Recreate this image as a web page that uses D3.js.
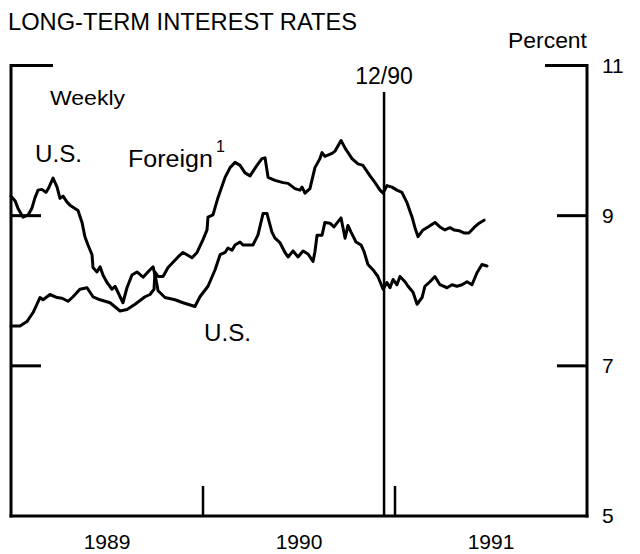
<!DOCTYPE html>
<html>
<head>
<meta charset="utf-8">
<script src="https://cdn.jsdelivr.net/npm/d3@7"></script>
<style>
  html, body { margin: 0; padding: 0; background: #fff; }
  svg { display: block; }
  text { font-family: "Liberation Sans", Arial, Helvetica, sans-serif; fill: #000; }
</style>
</head>
<body>
<svg id="chart" width="640" height="554"></svg>
<script>
// ---- Data (dates as decimal years) ----
const usDates = [1989.000,1989.021,1989.036,1989.063,1989.089,1989.109,1989.125,1989.141,1989.161,1989.182,
  1989.198,1989.219,1989.240,1989.255,1989.271,1989.292,1989.307,1989.349,1989.370,1989.385,
  1989.401,1989.422,1989.427,1989.448,1989.464,1989.479,1989.500,1989.526,1989.542,1989.557,
  1989.583,1989.604,1989.630,1989.656,1989.688,1989.724,1989.740,1989.755,1989.766,1989.802,
  1989.854,1989.896,1989.958,1989.984,1990.026,1990.063,1990.089,1990.115,1990.130,1990.151,
  1990.167,1990.193,1990.208,1990.260,1990.286,1990.313,1990.333,1990.359,1990.375,1990.401,
  1990.427,1990.443,1990.469,1990.495,1990.521,1990.547,1990.573,1990.583,1990.594,1990.620,
  1990.635,1990.661,1990.682,1990.719,1990.740,1990.755,1990.771,1990.797,1990.823,1990.839,
  1990.859,1990.885,1990.911,1990.938,1990.958,1990.974,1990.990,1991.010,1991.026,1991.052,
  1991.068,1991.094,1991.115,1991.141,1991.156,1991.182,1991.208,1991.234,1991.271,1991.297,
  1991.323,1991.349,1991.375,1991.401,1991.427,1991.453,1991.479];
const usValues = [9.26,9.20,9.10,8.98,9.01,9.10,9.24,9.34,9.35,9.31,
  9.38,9.50,9.38,9.23,9.26,9.18,9.14,9.07,8.91,8.72,
  8.61,8.48,8.31,8.25,8.32,8.21,8.11,8.02,8.06,7.98,
  7.84,8.04,8.21,8.25,8.18,8.28,8.32,8.15,8.00,7.91,
  7.88,7.84,7.79,7.92,8.06,8.28,8.48,8.51,8.57,8.54,
  8.61,8.65,8.61,8.61,8.74,9.03,9.03,8.78,8.70,8.64,
  8.51,8.45,8.53,8.45,8.53,8.49,8.39,8.52,8.74,8.74,
  8.91,8.90,8.85,8.97,8.70,8.87,8.78,8.65,8.61,8.52,
  8.35,8.28,8.19,8.02,8.11,8.04,8.15,8.08,8.19,8.12,
  8.06,7.98,7.82,7.91,8.06,8.12,8.19,8.08,8.04,8.08,
  8.06,8.08,8.12,8.08,8.24,8.35,8.33];

const foreignDates = [1989.000,1989.047,1989.083,1989.115,1989.151,1989.167,1989.203,1989.240,1989.266,1989.297,
  1989.323,1989.359,1989.396,1989.427,1989.464,1989.516,1989.568,1989.604,1989.646,1989.698,
  1989.724,1989.745,1989.750,1989.766,1989.792,1989.818,1989.870,1989.896,1989.943,1989.969,
  1990.000,1990.021,1990.026,1990.052,1990.078,1990.115,1990.141,1990.167,1990.193,1990.219,
  1990.245,1990.281,1990.307,1990.323,1990.339,1990.375,1990.417,1990.443,1990.479,1990.505,
  1990.516,1990.531,1990.557,1990.583,1990.609,1990.620,1990.635,1990.672,1990.688,1990.719,
  1990.740,1990.776,1990.807,1990.833,1990.870,1990.896,1990.922,1990.938,1990.958,1990.984,
  1991.010,1991.036,1991.063,1991.089,1991.104,1991.120,1991.146,1991.172,1991.208,1991.234,
  1991.260,1991.286,1991.307,1991.333,1991.359,1991.385,1991.411,1991.438,1991.464];
const foreignValues = [7.53,7.53,7.59,7.71,7.91,7.88,7.95,7.91,7.90,7.86,
  7.92,8.02,8.04,7.92,7.88,7.84,7.73,7.75,7.82,7.92,
  7.95,8.02,8.25,8.19,8.19,8.31,8.45,8.51,8.44,8.51,
  8.68,8.81,8.98,9.01,9.24,9.51,9.64,9.71,9.67,9.57,
  9.53,9.67,9.76,9.77,9.51,9.47,9.44,9.43,9.36,9.34,
  9.38,9.30,9.36,9.64,9.76,9.84,9.79,9.83,9.86,10.00,
  9.90,9.76,9.69,9.67,9.53,9.44,9.34,9.30,9.40,9.38,
  9.34,9.31,9.17,8.98,8.84,8.72,8.81,8.85,8.91,8.85,
  8.81,8.84,8.81,8.80,8.77,8.77,8.84,8.90,8.94];

const yearLabels = ["1989", "1990", "1991"];
const yearBoundaries = [1990, 1991];
const percentTicks = [11, 9, 7, 5];
const innerTicks = [9, 7];
const markerDate = 1990.943;
const markerLabel = "12/90";

// ---- Scales ----
const x = d3.scaleLinear().domain([1989, 1992]).range([11, 587]);
const y = d3.scaleLinear().domain([5, 11]).range([516, 65.5]);

const svg = d3.select("#chart");
const sw = 3;

// Title and unit
svg.append("text").attr("x", 8).attr("y", 30).attr("font-size", 23)
  .attr("textLength", 349).attr("lengthAdjust", "spacingAndGlyphs")
  .text("LONG-TERM INTEREST RATES");
svg.append("text").attr("x", 508).attr("y", 48).attr("font-size", 22)
  .attr("textLength", 79).attr("lengthAdjust", "spacingAndGlyphs")
  .text("Percent");

const g = svg.append("g");

// Frame: left, right, bottom
const x0 = x(1989), x1 = x(1992), yb = y(5), yt = y(11);
g.append("line").attr("x1", x0).attr("x2", x0).attr("y1", yt - 1.5).attr("y2", yb + 1.5)
  .attr("stroke", "#000").attr("stroke-width", sw);
g.append("line").attr("x1", x1).attr("x2", x1).attr("y1", yt - 1.5).attr("y2", yb + 1.5)
  .attr("stroke", "#000").attr("stroke-width", sw);
g.append("line").attr("x1", x0 - 1.5).attr("x2", x1 + 1.5).attr("y1", yb).attr("y2", yb)
  .attr("stroke", "#000").attr("stroke-width", sw);

// Top bracket ticks at 11
g.append("line").attr("x1", x0).attr("x2", x0 + 42).attr("y1", yt).attr("y2", yt)
  .attr("stroke", "#000").attr("stroke-width", sw);
g.append("line").attr("x1", x1 - 42).attr("x2", x1).attr("y1", yt).attr("y2", yt)
  .attr("stroke", "#000").attr("stroke-width", sw);

// Inner ticks at 9 and 7
innerTicks.forEach(v => {
  g.append("line").attr("x1", x0).attr("x2", x0 + 30).attr("y1", y(v)).attr("y2", y(v))
    .attr("stroke", "#000").attr("stroke-width", sw);
  g.append("line").attr("x1", x1 - 30).attr("x2", x1).attr("y1", y(v)).attr("y2", y(v))
    .attr("stroke", "#000").attr("stroke-width", sw);
});

// Year boundary ticks
yearBoundaries.forEach(yr => {
  g.append("line").attr("x1", x(yr)).attr("x2", x(yr)).attr("y1", yb - 30).attr("y2", yb)
    .attr("stroke", "#000").attr("stroke-width", 2.5);
});

// Right axis labels
const rightAxis = d3.axisRight(y).tickValues(percentTicks).tickSize(0).tickPadding(15)
  .tickFormat(d3.format("d"));
const ra = svg.append("g").attr("transform", `translate(${x1},0)`).call(rightAxis);
ra.select(".domain").remove();
ra.selectAll("text").attr("font-size", 21).attr("fill", "#000")
  .style("font-family", '"Liberation Sans", Arial, sans-serif');

// Year labels (centred in each year)
yearLabels.forEach((lab, i) => {
  svg.append("text").attr("x", x(1989.5 + i)).attr("y", 549).attr("font-size", 21)
    .attr("text-anchor", "middle").text(lab);
});

// Marker line 12/90
g.append("line").attr("x1", x(markerDate)).attr("x2", x(markerDate))
  .attr("y1", 92).attr("y2", yb).attr("stroke", "#000").attr("stroke-width", 2.5);
svg.append("text").attr("x", x(markerDate)).attr("y", 84).attr("font-size", 23)
  .attr("text-anchor", "middle").text(markerLabel);

// Series lines
const line = d3.line().x(d => x(d[0])).y(d => y(d[1]));
const us = usDates.map((d, i) => [d, usValues[i]]);
const foreign = foreignDates.map((d, i) => [d, foreignValues[i]]);
[us, foreign].forEach(s => {
  g.append("path").datum(s).attr("d", line).attr("fill", "none")
    .attr("stroke", "#000").attr("stroke-width", 3)
    .attr("stroke-linejoin", "round").attr("stroke-linecap", "round");
});

// Labels
svg.append("text").attr("x", 50).attr("y", 105).attr("font-size", 21)
  .attr("textLength", 75).attr("lengthAdjust", "spacingAndGlyphs").text("Weekly");
svg.append("text").attr("x", 35).attr("y", 162).attr("font-size", 23)
  .attr("textLength", 47).attr("lengthAdjust", "spacingAndGlyphs").text("U.S.");
svg.append("text").attr("x", 128).attr("y", 167).attr("font-size", 23)
  .attr("textLength", 85).attr("lengthAdjust", "spacingAndGlyphs").text("Foreign");
svg.append("text").attr("x", 216).attr("y", 152).attr("font-size", 16).text("1");
svg.append("text").attr("x", 204).attr("y", 341).attr("font-size", 23)
  .attr("textLength", 47).attr("lengthAdjust", "spacingAndGlyphs").text("U.S.");
</script>
</body>
</html>
